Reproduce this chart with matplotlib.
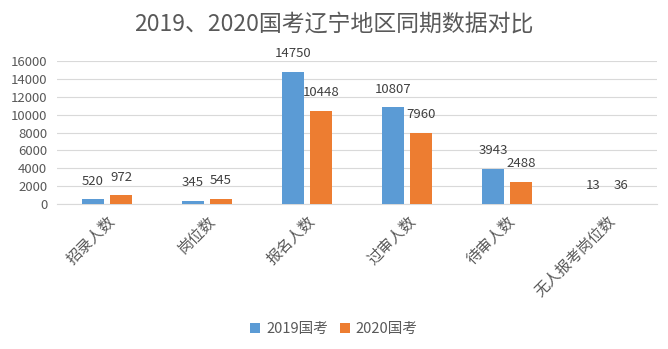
import matplotlib.pyplot as plt
import numpy as np

plt.rcParams['font.family'] = ['Noto Sans CJK SC', 'DejaVu Sans']

categories = ['招录人数', '岗位数', '报名人数', '过审人数', '待审人数', '无人报考岗位数']
s2019 = [520, 345, 14750, 10807, 3943, 13]
s2020 = [972, 545, 10448, 7960, 2488, 36]
series_names = ['2019国考', '2020国考']

grey = '#595959'
fig = plt.figure(figsize=(6.68, 3.49), dpi=100)
ax = fig.add_axes([57/668, 145/349, 600/668, 143/349])

x = np.arange(len(categories))
w = 0.22
b1 = ax.bar(x - 0.14, s2019, w, color='#5B9BD5', label=series_names[0], zorder=3)
b2 = ax.bar(x + 0.14, s2020, w, color='#ED7D31', label=series_names[1], zorder=3)

for bars in (b1, b2):
    for r in bars:
        ax.annotate(str(int(r.get_height())), (r.get_x() + r.get_width()/2, r.get_height()),
                    xytext=(0, 8.5), textcoords='offset points', ha='center', va='bottom',
                    fontsize=9.5, color='#404040')

ax.set_xlim(-0.5, 5.5)
ax.set_ylim(0, 16000)
ax.set_yticks(range(0, 16001, 2000))
ax.yaxis.grid(True, color='#D9D9D9', linewidth=0.8, zorder=0)
ax.set_xticks(x)
ax.set_xticklabels(categories, rotation=45, ha='right', rotation_mode='anchor', fontsize=11, color=grey)
ax.tick_params(axis='y', labelsize=9.5, labelcolor=grey, length=0, pad=7)
ax.tick_params(axis='x', length=0, pad=6)
for s in ['top', 'right', 'left']:
    ax.spines[s].set_visible(False)
ax.spines['bottom'].set_color('#D9D9D9')

fig.suptitle('2019、2020国考辽宁地区同期数据对比', y=0.965, fontsize=16.5, color=grey)
fig.legend(loc='lower center', ncol=2, frameon=False, fontsize=10.5, labelcolor=grey,
           bbox_to_anchor=(0.5, 0.0), handlelength=0.7, handleheight=0.7, columnspacing=0.8, handletextpad=0.4)

plt.savefig('out.png')
